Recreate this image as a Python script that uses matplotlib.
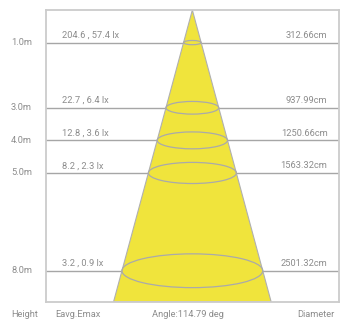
import matplotlib
matplotlib.use("Agg")
import matplotlib.pyplot as plt
import numpy as np
from matplotlib.patches import Ellipse, Polygon

heights = [1.0, 3.0, 4.0, 5.0, 8.0]
height_labels = ["1.0m", "3.0m", "4.0m", "5.0m", "8.0m"]
lux_labels = ["204.6 , 57.4 lx", "22.7 , 6.4 lx", "12.8 , 3.6 lx", "8.2 , 2.3 lx", "3.2 , 0.9 lx"]
diameters = [312.66, 937.99, 1250.66, 1563.32, 2501.32]  # cm
beam_angle = 114.79

ymax = 8.95
xlim = 26.0
half = np.tan(np.radians(beam_angle / 2))

plt.rcParams['font.family'] = ['Roboto', 'DejaVu Sans']
txt = '#8c8c8c'
fs = 6.7

fig = plt.figure(figsize=(3.44, 3.19), dpi=100)
ax = fig.add_axes([46 / 344, 17.3 / 319, 292.7 / 344, 291.7 / 319])
ax.set_xlim(-xlim, xlim)
ax.set_ylim(ymax, 0)
ax.set_xticks([])
ax.set_yticks([])
for s in ax.spines.values():
    s.set_color('#cccccc')
    s.set_linewidth(1.3)

# horizontal height lines
for h in heights:
    ax.axhline(h, color='#a6a6a6', lw=1.0, zorder=1)

# cone
cone = Polygon([[0, 0], [-half * ymax, ymax], [half * ymax, ymax]], closed=True,
               facecolor='#f0e43c', edgecolor='#b0b0b0', lw=0.8, zorder=2)
ax.add_patch(cone)

# ellipses at each height (drawn from diameter values)
px_x = 292.7 / (2 * xlim)
px_y = 291.7 / ymax
for h, d in zip(heights, diameters):
    w = d / 100.0
    eh = 0.24 * w * px_x / px_y
    ax.add_patch(Ellipse((0, h), w, eh, facecolor='none', edgecolor='#aaaaaa', lw=0.9, zorder=3))

for h, hl, ll, d in zip(heights, height_labels, lux_labels, diameters):
    ax.text(-xlim - 6.2, h, hl, ha='left', va='center', fontsize=fs, color=txt, clip_on=False)
    ax.text(-xlim + 2.9, h - 0.08, ll, ha='left', va='bottom', fontsize=fs, color=txt)
    ax.text(xlim - 2.0, h - 0.08, '%.2fcm' % d, ha='right', va='bottom', fontsize=fs, color=txt)

fig.text(11 / 344, 0, 'Height', ha='left', va='bottom', fontsize=fs, color=txt)
fig.text(55 / 344, 0, 'Eavg.Emax', ha='left', va='bottom', fontsize=fs, color=txt)
fig.text(188 / 344, 0, 'Angle:%.2f deg' % beam_angle, ha='center', va='bottom', fontsize=fs, color=txt)
fig.text(334 / 344, 0, 'Diameter', ha='right', va='bottom', fontsize=fs, color=txt)

fig.savefig('out.png', dpi=100)
